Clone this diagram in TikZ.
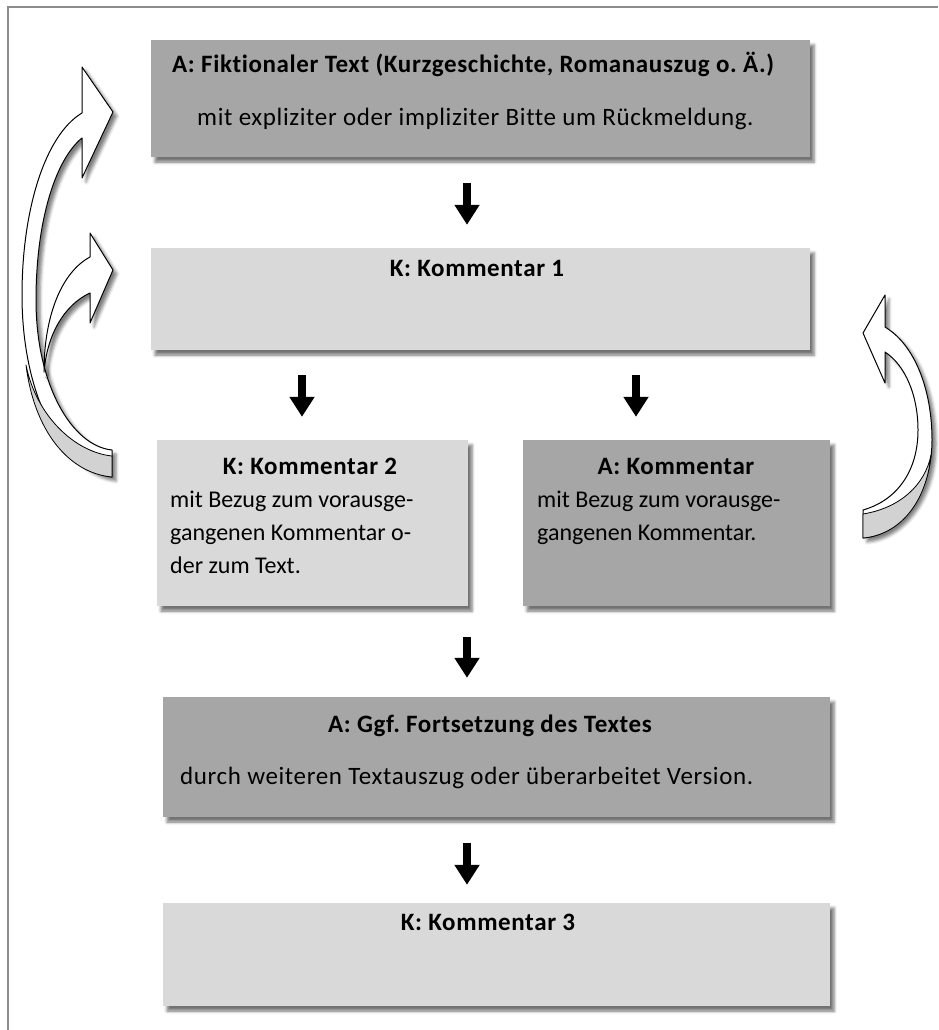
\documentclass[tikz,border=0pt]{standalone}
\usepackage{fontspec}
\setmainfont{Carlito}[Ligatures=CommonOff]
\newfontfamily\widefont{Carlito}[LetterSpace=2.5, Ligatures=CommonOff]
\frenchspacing
\usetikzlibrary{arrows.meta,shadows.blur}
\definecolor{boxdark}{HTML}{A6A6A6}
\definecolor{boxlight}{HTML}{D9D9D9}
\definecolor{framegray}{HTML}{8C8C8C}
\definecolor{bendback}{HTML}{D2D2D2}

\begin{document}
\begin{tikzpicture}[x=1pt,y=-1pt,
  box/.style={draw=none, rectangle, inner sep=0pt,
    blur shadow={shadow xshift=4pt, shadow yshift=-5pt, shadow blur radius=3pt, shadow opacity=55}},
  darkbox/.style={box, fill=boxdark},
  lightbox/.style={box, fill=boxlight},
  ttl/.style={font=\widefont\fontsize{25}{30}\selectfont\bfseries, anchor=base, inner sep=0pt},
  txt/.style={font=\widefont\fontsize{25}{30}\selectfont, anchor=base west, inner sep=0pt},
  txtn/.style={font=\fontsize{24}{30}\selectfont, anchor=base west, inner sep=0pt},
  down/.style={line width=8pt, -{Triangle[length=20pt,width=24pt]}},
  bendarrow/.style={draw=black, line width=1pt, line join=round, fill=white},
  bendshadow/.style={blur shadow={shadow xshift=4pt, shadow yshift=-4pt, shadow blur radius=3pt, shadow opacity=50}},
  backface/.style={draw=black, line width=0.8pt, line join=round, fill=bendback},
]
\useasboundingbox (0,0) rectangle (938,1030);

% page frame
\draw[framegray, line width=1.5pt] (8,1030) -- (8,7) -- (938,7);

% boxes
\node[darkbox,  minimum width=659pt, minimum height=117pt] (a1) at (480.5,98.5) {};
\node[lightbox, minimum width=659pt, minimum height=102pt] (k1) at (480.5,299) {};
\node[lightbox, minimum width=311pt, minimum height=166pt] (k2) at (312.5,523) {};
\node[darkbox,  minimum width=307pt, minimum height=166pt] (a2) at (676.5,523) {};
\node[darkbox,  minimum width=667pt, minimum height=120pt] (a3) at (496.5,757) {};
\node[lightbox, minimum width=667pt, minimum height=103pt] (k3) at (496.5,954.5) {};

% texts
\node[ttl, anchor=base west] (a1t) at (172,73) {A: Fiktionaler Text (Kurzgeschichte, Romanauszug o.~Ä.)};
\node[txt] (a1b) at (197,125) {mit expliziter oder impliziter Bitte um Rückmeldung.};
\node[ttl] (k1t) at (477,276) {K: Kommentar 1};
\node[ttl] (k2t) at (310,474) {K: Kommentar 2};
\node[txtn] (k2a) at (170,507) {mit Bezug zum vorausge-};
\node[txtn] (k2b) at (170,540) {gangenen Kommentar o-};
\node[txtn] (k2c) at (170,573) {der zum Text.};
\node[ttl] (a2t) at (676,474) {A: Kommentar};
\node[txtn] (a2a) at (537,507) {mit Bezug zum vorausge-};
\node[txtn] (a2b) at (537,540) {gangenen Kommentar.};
\node[ttl] (a3t) at (490,732) {A: Ggf. Fortsetzung des Textes};
\node[txt] (a3b) at (180,784) {durch weiteren Textauszug oder überarbeitet Version.};
\node[ttl] (k3t) at (488,930) {K: Kommentar 3};

% flow arrows
\draw[down, shorten <=26pt, shorten >=23pt] (a1.south -| 467,0) -- (k1.north -| 467,0);
\draw[down, shorten <=25pt, shorten >=23pt] (k1.south -| 302,0) -- (k2.north -| 302,0);
\draw[down, shorten <=25pt, shorten >=23pt] (k1.south -| 636,0) -- (a2.north -| 636,0);
\draw[down, shorten <=31pt, shorten >=19pt] (k2.south -| 467,0) -- (a3.north -| 467,0);
\draw[down, shorten <=26pt, shorten >=18pt] (a3.south -| 467,0) -- (k3.north -| 467,0);

% large curved arrow on the left, back to the text
\path[bendarrow, bendshadow]
  (82,113) .. controls (45,135) and (22,210) .. (22,295)
           .. controls (22,400) and (65,472) .. (112,477)
  -- (112,450) .. controls (72,446) and (36,385) .. (36,300)
               .. controls (36,222) and (55,160) .. (82,138)
  -- (82,178) -- (113,112) -- (82,67) -- cycle;
\path[backface]
  (112,456) .. controls (74,452) and (36,415) .. (26,365)
            .. controls (34,430) and (68,473) .. (112,477) -- cycle;

% small curved arrow on the left, back to comment 1
\path[bendarrow, bendshadow]
  (90,257) .. controls (62,272) and (44,315) .. (44,372)
           .. controls (47,335) and (64,305) .. (90,293)
  -- (90,323) -- (113,270) -- (90,233) -- cycle;

% curved arrow on the right, back to comment 1
\path[bendarrow, bendshadow]
  (885,327) .. controls (915,345) and (932,390) .. (932,440)
            .. controls (932,495) and (900,535) .. (863,538)
  -- (863,510) .. controls (898,500) and (918,470) .. (918,430)
               .. controls (918,395) and (905,365) .. (885,352)
  -- (885,383) -- (863,333) -- (885,295) -- cycle;
\path[backface]
  (863,514) .. controls (900,508) and (925,485) .. (931,455)
            .. controls (926,505) and (898,535) .. (863,538) -- cycle;
\end{tikzpicture}
\end{document}
